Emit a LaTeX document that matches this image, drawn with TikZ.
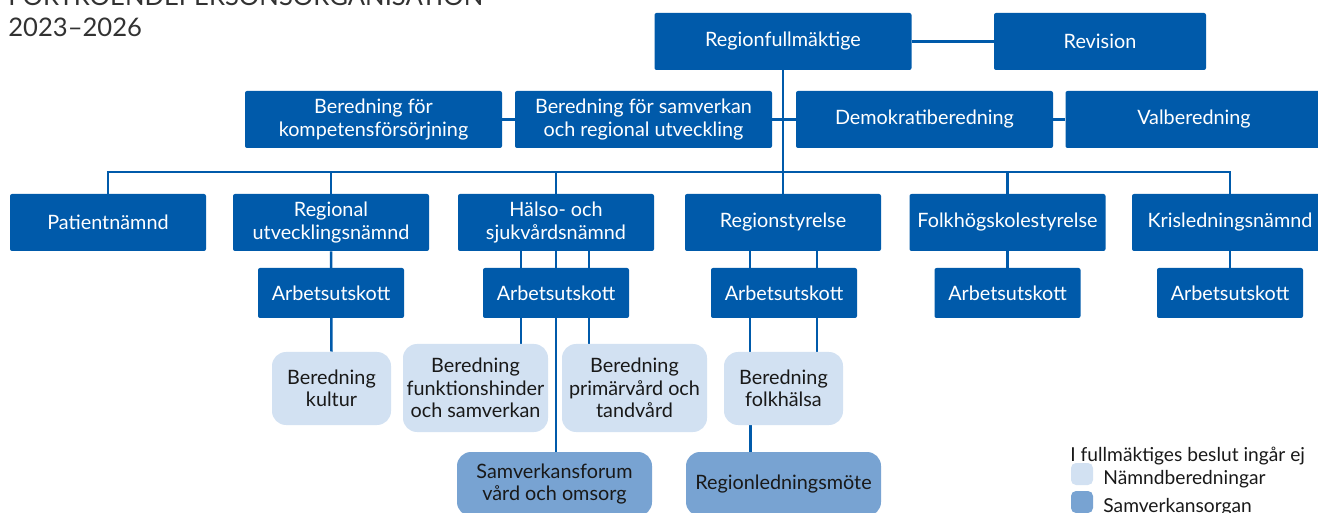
\documentclass[tikz,border=0pt]{standalone}
\usepackage{fontspec}
\setmainfont{Lato}
\usepackage{tikz}
\usetikzlibrary{backgrounds}

\definecolor{rblue}{RGB}{0,90,170}
\definecolor{rlight}{RGB}{210,225,242}
\definecolor{rmid}{RGB}{120,163,210}
\definecolor{rtext}{RGB}{25,25,25}
\definecolor{rtitle}{RGB}{50,50,50}

\tikzset{
  unit/.style={fill=rblue, text=white, rounded corners=1pt, align=center, inner sep=0pt,
    font=\fontsize{9.9}{11.2}\selectfont},
  wide/.style={unit, minimum width=128.5pt, minimum height=28.5pt},
  board/.style={unit, minimum width=98pt, minimum height=28.5pt},
  au/.style={unit, minimum width=73pt, minimum height=25pt},
  prep/.style={fill=rlight, text=rtext, rounded corners=7pt, align=center, inner sep=0pt,
    font=\fontsize{9.9}{11.2}\selectfont},
  forum/.style={prep, fill=rmid, minimum width=97.5pt, minimum height=32pt},
  link/.style={draw=rblue, line width=1.25pt},
  swatch/.style={fill=#1, rounded corners=2.5pt, minimum size=11pt, inner sep=0pt},
  legtext/.style={text=rtext, anchor=base west, inner sep=0pt, font=\fontsize{9.6}{11}\selectfont}
}

\begin{document}
\begin{tikzpicture}[x=0.5pt, y=-0.5pt]
    \clip (0,0) rectangle (1318,513);

    \node[anchor=base west, inner sep=0pt, text=rtitle, font=\fontsize{12.8}{15}\selectfont] (title) at (8,6) {FÖRTROENDEPERSONSORGANISATION};
    \node[anchor=base west, inner sep=0pt, text=rtitle, font=\fontsize{12.8}{15}\selectfont] (years) at (8,37) {2023–2026};

    \node[wide] (rf) at (783,41.5) {Regionfullmäktige};
    \node[unit, minimum width=106pt, minimum height=28.5pt] (rev) at (1100,41.5) {Revision};

    \node[wide] (bkomp) at (373.5,119.5) {Beredning för\\kompetensförsörjning};
    \node[wide] (bsam) at (643.5,119.5) {Beredning för samverkan\\och regional utveckling};
    \node[wide] (demo) at (924.5,119.5) {Demokratiberedning};
    \node[wide] (val) at (1194,119.5) {Valberedning};

    \node[board] (pat) at (108,222.5) {Patientnämnd};
    \node[board] (run) at (331,222.5) {Regional\\utvecklingsnämnd};
    \node[board] (hsn) at (556,222.5) {Hälso- och\\sjukvårdsnämnd};
    \node[board] (rs) at (783,222.5) {Regionstyrelse};
    \node[board] (fhs) at (1007.5,222.5) {Folkhögskolestyrelse};
    \node[board] (kln) at (1230,222.5) {Krisledningsnämnd};

    \node[au] (runau) at (331,293) {Arbetsutskott};
    \node[au] (hsnau) at (556,293) {Arbetsutskott};
    \node[au] (rsau) at (784,293) {Arbetsutskott};
    \node[au] (fhsau) at (1007.5,293) {Arbetsutskott};
    \node[au] (klnau) at (1230,293) {Arbetsutskott};

    \node[prep, minimum width=59.5pt, minimum height=36.5pt] (kultur) at (331.5,388.5) {Beredning\\kultur};
    \node[prep, minimum width=72.5pt, minimum height=44pt] (funk) at (475.5,388) {Beredning\\funktionshinder\\och samverkan};
    \node[prep, minimum width=72.5pt, minimum height=44pt] (prim) at (634.5,388) {Beredning\\primärvård och\\tandvård};
    \node[prep, minimum width=59.5pt, minimum height=36.5pt] (folk) at (783.5,388.5) {Beredning\\folkhälsa};

    \node[forum] (svf) at (554.5,484) {Samverkansforum\\vård och omsorg};
    \node[forum] (rlm) at (783.5,484) {Regionledningsmöte};

    \coordinate (bus) at (783,172);

    \begin{scope}[on background layer]
        \draw[link] (rf.east) -- (rev.west);
        \draw[link] (bkomp.east) -- (bsam.west);
        \draw[link] (bsam.east) -- (demo.west);
        \draw[link] (demo.east) -- (val.west);
        \draw[link] (rf.south) -- (rs.north);
        \draw[link] (pat.north) |- (kln.north |- bus) -- (kln.north);
        \foreach \n in {run,hsn,fhs}
            \draw[link] (\n.north) -- (\n.north |- bus);
        \draw[link] (run.south) -- (kultur.north);
        \draw[link] (fhs.south) -- (fhsau.north);
        \draw[link] (kln.south) -- (klnau.north);
        \draw[link] ([xshift=-17.5pt]hsn.south) -- ([xshift=-17.5pt]hsn.south |- funk.north);
        \draw[link] (hsn.south) -- (hsn.south |- svf.north);
        \draw[link] ([xshift=16.5pt]hsn.south) -- ([xshift=16.5pt]hsn.south |- prim.north);
        \draw[link] ([xshift=-16.5pt]rs.south) -- ([xshift=-16.5pt]rs.south |- folk.north);
        \draw[link] ([xshift=17pt]rs.south) -- ([xshift=17pt]rs.south |- folk.north);
        \draw[link] ([xshift=-16.5pt]folk.south) -- ([xshift=-16.5pt]folk.south |- rlm.north);
    \end{scope}

    \node[legtext] (legend) at (1070,461) {I fullmäktiges beslut ingår ej};
    \node[swatch=rlight] (keyprep) at (1082,474) {};
    \node[swatch=rmid] (keyforum) at (1082,502) {};
    \node[legtext] (legprep) at (1103,484) {Nämndberedningar};
    \node[legtext] (legforum) at (1103,512) {Samverkansorgan};
\end{tikzpicture}
\end{document}
